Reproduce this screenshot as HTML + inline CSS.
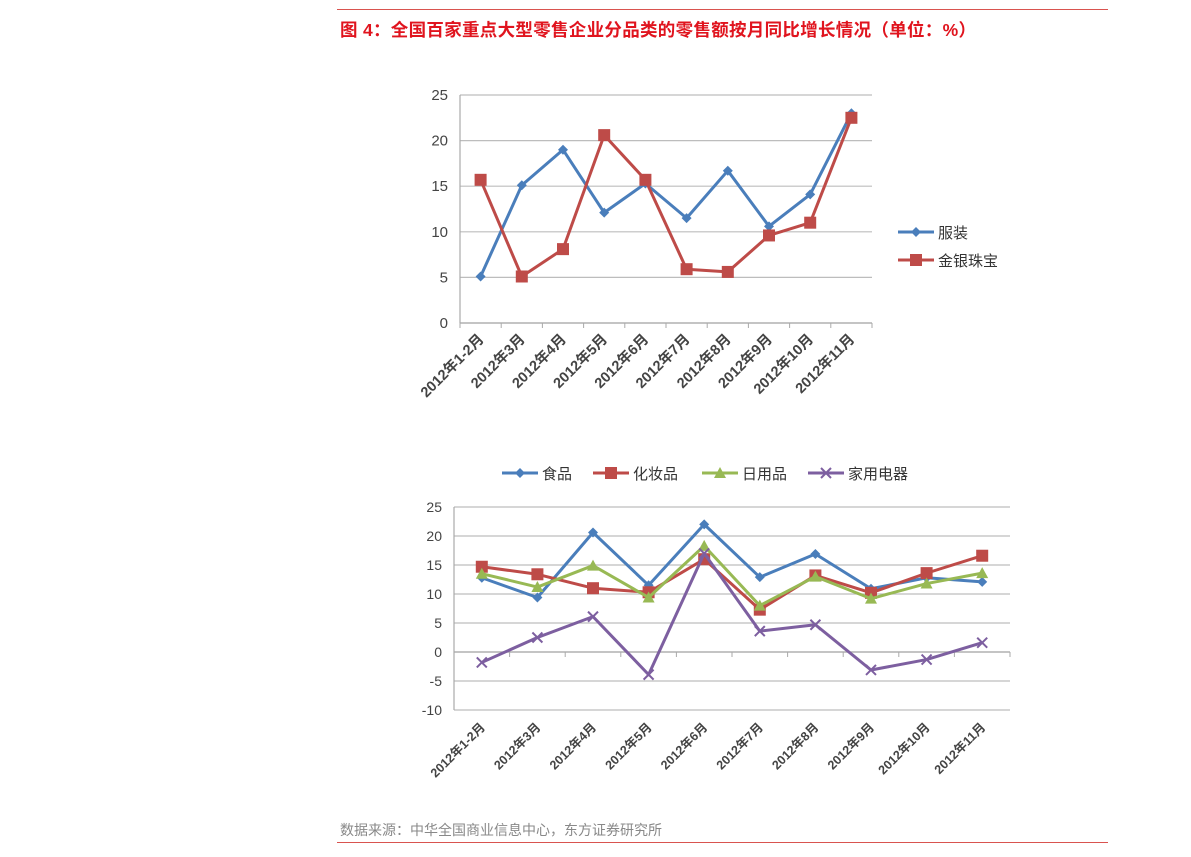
<!DOCTYPE html>
<html><head><meta charset="utf-8">
<style>
body{margin:0;width:1191px;height:857px;background:#fff;position:relative;overflow:hidden;font-family:"Liberation Sans","Noto Sans CJK SC",sans-serif;}
.rule{position:absolute;left:337px;width:771px;height:1px;background:#d9534f;}
#title{position:absolute;left:340px;top:17px;font-size:17.5px;font-weight:bold;color:#e0141e;white-space:nowrap;letter-spacing:0.3px;}
#src{position:absolute;left:340px;top:820px;font-size:14px;color:#888;white-space:nowrap;}
svg{position:absolute;left:0;top:0;}
svg text{font-family:"Liberation Sans","Noto Sans CJK SC",sans-serif;}
</style></head><body>
<div class="rule" style="top:9px"></div>
<div id="title">图 4：全国百家重点大型零售企业分品类的零售额按月同比增长情况（单位：%）</div>
<svg id="chart" width="1191" height="857"></svg>
<div id="src">数据来源：中华全国商业信息中心，东方证券研究所</div>
<div class="rule" style="top:842px"></div>
<script>
const cats1 = ["2012年1-2月","2012年3月","2012年4月","2012年5月","2012年6月","2012年7月","2012年8月","2012年9月","2012年10月","2012年11月"];
const clothing = [5.1,15.1,19,12.1,15.3,11.5,16.7,10.6,14.1,23];
const jewelry = [15.7,5.1,8.1,20.6,15.7,5.9,5.6,9.6,11,22.5];
const ticks1 = [0,5,10,15,20,25];
const cats2 = cats1;
const food = [12.8,9.4,20.6,11.5,22,12.9,16.9,10.9,12.8,12.1];
const cosmetics = [14.7,13.4,11,10.3,16,7.3,13.2,10.2,13.6,16.6];
const daily = [13.5,11.2,14.9,9.4,18.3,8,13,9.2,11.8,13.6];
const appliances = [-1.8,2.5,6.1,-3.9,17,3.6,4.7,-3.1,-1.3,1.6];
const ticks2 = [-10,-5,0,5,10,15,20,25];

const svg = document.getElementById('chart');
const NS = 'http://www.w3.org/2000/svg';
function mk(tag, attrs, parent){const e=document.createElementNS(NS,tag);for(const k in attrs)e.setAttribute(k,attrs[k]);(parent||svg).appendChild(e);return e;}

function marker(g, type, x, y, color){
  let m;
  if(type==='diamond'){m=mk('polygon',{points:`${x},${y-5} ${x+5},${y} ${x},${y+5} ${x-5},${y}`,fill:color},g);}
  else if(type==='square'){m=mk('rect',{x:x-6,y:y-6,width:12,height:12,fill:color},g);}
  else if(type==='triangle'){m=mk('polygon',{points:`${x},${y-6} ${x+6},${y+5} ${x-6},${y+5}`,fill:color},g);}
  else {m=mk('path',{d:`M${x-5},${y-5}L${x+5},${y+5}M${x+5},${y-5}L${x-5},${y+5}`,stroke:color,'stroke-width':2},g);}
  
  
}

function chart(cfg){
  const {x0,x1,yTop,yBot,min,max,ticks,cats,series,name}=cfg;
  const g=mk('g',{});
  
  
  const ys=v=>yBot-(v-min)/(max-min)*(yBot-yTop);
  const step=(x1-x0)/cats.length;
  const xs=i=>x0+step*(i+0.5);
  ticks.forEach(t=>{
    const y=ys(t);
    const l=mk('line',{x1:x0,x2:x1,y1:y,y2:y,stroke:'#bdbdbd','stroke-width':1.2},g);
    
    
    const tx=mk('text',{x:x0-12,y:y+5,'text-anchor':'end','font-size':cfg.tickSize,fill:'#444'},g);
    tx.textContent=t;
    
    
  });
  const ax=mk('line',{x1:x0,x2:x0,y1:yTop,y2:yBot,stroke:'#aaa','stroke-width':1.2},g);
  
  
  const ay=ys(cfg.axisAt);
  const xa=mk('line',{x1:x0,x2:x1,y1:ay,y2:ay,stroke:'#aaa','stroke-width':1.2},g);
  
  
  for(let i=0;i<=cats.length;i++){
    const x=x0+step*i;
    const tk=mk('line',{x1:x,x2:x,y1:ay,y2:ay+5,stroke:'#aaa'},g);
    
    
  }
  cats.forEach((c,i)=>{
    const x=xs(i)+4, y=cfg.labelY;
    const t=mk('text',{x:x,y:y,'text-anchor':'end','font-size':cfg.labelSize,'font-weight':'bold',fill:'#444',transform:`rotate(-45 ${x} ${y})`},g);
    t.textContent=c;
    
    
  });
  series.forEach(s=>{
    const sg=mk('g',{},g);
    
    
    const pts=s.values.map((v,i)=>`${xs(i)},${ys(v)}`).join(' ');
    const pl=mk('polyline',{points:pts,fill:'none',stroke:s.color,'stroke-width':3,'stroke-linejoin':'round'},sg);
    
    
    s.values.forEach((v,i)=>marker(sg,s.marker,xs(i),ys(v),s.color));
  });
  return g;
}

chart({name:'chart-clothing-jewelry',x0:460,x1:872,yTop:95,yBot:323,min:0,max:25,ticks:ticks1,cats:cats1,axisAt:0,labelY:340,labelSize:14.5,tickSize:15,
  series:[{key:'clothing',values:clothing,color:'#4a7ebb',marker:'diamond'},{key:'jewelry',values:jewelry,color:'#be4b48',marker:'square'}]});

chart({name:'chart-four-categories',x0:454,x1:1010,yTop:507,yBot:710,min:-10,max:25,ticks:ticks2,cats:cats2,axisAt:0,labelY:728,labelSize:12.5,tickSize:14,
  series:[{key:'food',values:food,color:'#4a7ebb',marker:'diamond'},{key:'cosmetics',values:cosmetics,color:'#be4b48',marker:'square'},
          {key:'daily',values:daily,color:'#98b954',marker:'triangle'},{key:'appliances',values:appliances,color:'#7d5fa0',marker:'x'}]});

function legendEntry(x,y,color,type,label,len){
  const g=mk('g',{});
  
  
  const l=mk('line',{x1:x,x2:x+len,y1:y,y2:y,stroke:color,'stroke-width':3},g);
  
  
  marker(g,type,x+len/2,y,color);
  const t=mk('text',{x:x+len+4,y:y+6,'font-size':15,fill:'#333'},g);
  t.textContent=label;
  
  
}
legendEntry(898,232,'#4a7ebb','diamond','服装',36);
legendEntry(898,260,'#be4b48','square','金银珠宝',36);
legendEntry(502,473,'#4a7ebb','diamond','食品',36);
legendEntry(593,473,'#be4b48','square','化妆品',36);
legendEntry(702,473,'#98b954','triangle','日用品',36);
legendEntry(808,473,'#7d5fa0','x','家用电器',36);
</script>
</body></html>
